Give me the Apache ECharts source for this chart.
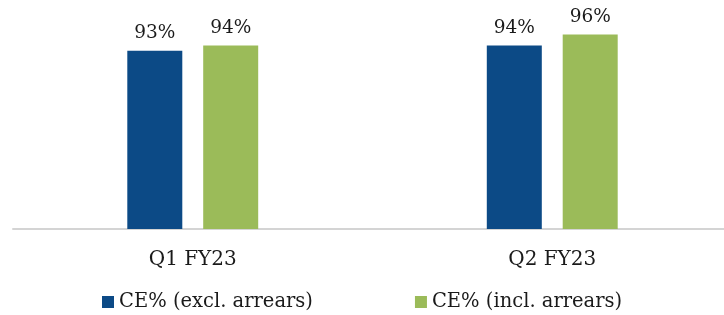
<!DOCTYPE html>
<html><head><meta charset="utf-8">
<script src="https://cdn.jsdelivr.net/npm/echarts@6/dist/echarts.min.js"></script>
<style>html,body{margin:0;padding:0;background:#fff}#c{width:724px;height:315px}</style>
</head><body><div id="c"></div>
<script>
var categories = ['Q1 FY23', 'Q2 FY23'];
var seriesNames = ['CE% (excl. arrears)', 'CE% (incl. arrears)'];
var exclArrears = [93, 94];
var inclArrears = [94, 96];
var FONT = 'DejaVu Serif';
var chart = echarts.init(document.getElementById('c'));
var labelOpt = {show: true, position: 'top', distance: 8, fontFamily: FONT, fontSize: 18.5, color: '#1a1a1a',
  formatter: function (p) { return Math.round(p.value) + '%'; }};
chart.setOption({
  animation: false,
  grid: {left: 13, width: 719, top: 13, bottom: 86, containLabel: false, outerBoundsMode: 'none'},
  legend: {left: 97, top: 287, itemWidth: 12, itemHeight: 12, itemGap: 102, icon: 'rect',
    textStyle: {fontFamily: FONT, fontSize: 19.5, color: '#1a1a1a'}, data: seriesNames},
  xAxis: {type: 'category', data: categories,
    axisLine: {lineStyle: {color: '#d4d4d4', width: 2}}, axisTick: {show: false},
    axisLabel: {fontFamily: FONT, fontSize: 20, color: '#1a1a1a', margin: 21}},
  yAxis: {type: 'value', min: 60, max: 100, show: false, splitLine: {show: false}},
  series: [
    {name: seriesNames[0], type: 'bar', data: exclArrears, barWidth: 55, barGap: '38%',
      itemStyle: {color: '#0c4a86'}, label: labelOpt},
    {name: seriesNames[1], type: 'bar', data: inclArrears, barWidth: 55,
      itemStyle: {color: '#9bbb59'}, label: labelOpt}
  ]
});
</script></body></html>
